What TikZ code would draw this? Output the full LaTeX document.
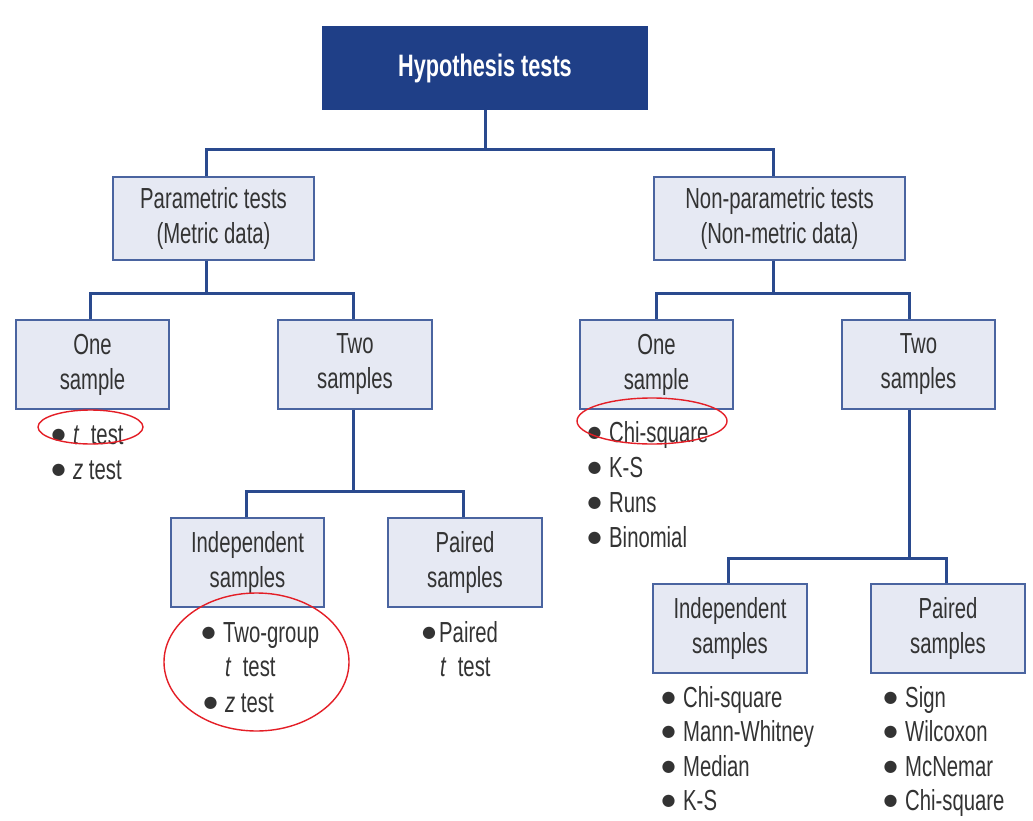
\documentclass[tikz,border=0pt]{standalone}
\usepackage{fontspec}
\setmainfont[FakeStretch=0.7]{Liberation Sans}
\newfontfamily\bltfont{DejaVu Sans}
\definecolor{navy}{HTML}{1F3F87}
\definecolor{conncol}{HTML}{2A4A8E}
\definecolor{boxline}{HTML}{4A64A0}
\definecolor{boxfill}{HTML}{E6E9F3}
\definecolor{txt}{HTML}{333333}
\definecolor{mark}{HTML}{E41E26}
\newcommand\itm[2][21.6pt]{\makebox[#1][l]{\raisebox{5pt}{\bltfont\fontsize{16}{16}\selectfont ●}}#2}
\begin{document}
\begin{tikzpicture}[x=1pt,y=-1pt,
  box/.style={draw=boxline, fill=boxfill, line width=1.5pt, align=center,
    font=\fontsize{29}{35}\selectfont, text=txt, inner sep=0pt},
  topbox/.style={fill=navy, align=center, font=\fontsize{31}{35}\selectfont\bfseries,
    text=white, inner sep=0pt},
  conn/.style={draw=conncol, line width=3pt},
  item/.style={anchor=base west, inner sep=0pt, font=\fontsize{29}{35}\selectfont, text=txt},
  ring/.style={draw=mark, line width=1.4pt}]
\useasboundingbox (0,0) rectangle (1033,821);
\fill[white] (0,0) rectangle (1033,821);

% boxes
\node[topbox, minimum width=326pt, minimum height=84pt] (top) at (485,68) {Hypothesis tests};
\node[box, minimum width=201pt, minimum height=83pt] (param) at (213.5,218.5) {Parametric tests\\(Metric data)};
\node[box, minimum width=251pt, minimum height=83pt] (nonpar) at (779.5,218.5) {Non-parametric tests\\(Non-metric data)};
\node[box, minimum width=153pt, minimum height=89pt] (oneL) at (92.5,364.5) {One\\sample};
\node[box, minimum width=154pt, minimum height=89pt] (twoL) at (355,364.5) {Two\\samples};
\node[box, minimum width=153pt, minimum height=89pt] (indL) at (247.5,562.5) {Independent\\samples};
\node[box, minimum width=154pt, minimum height=89pt] (pairL) at (465,562.5) {Paired\\samples};
\node[box, minimum width=153pt, minimum height=89pt] (oneR) at (656.5,364.5) {One\\sample};
\node[box, minimum width=153pt, minimum height=89pt] (twoR) at (918.5,364.5) {Two\\samples};
\node[box, minimum width=154pt, minimum height=89pt] (indR) at (730,628.5) {Independent\\samples};
\node[box, minimum width=154pt, minimum height=89pt] (pairR) at (948,628.5) {Paired\\samples};

% connectors
\draw[conn] (top.south) -- ++(0,39) coordinate (jA);
\draw[conn] ([xshift=-7.5pt]param.north) |- (jA) -| ([xshift=-6.5pt]nonpar.north);
\draw[conn] ([xshift=-7.5pt]param.south) -- ++(0,33) coordinate (jB);
\draw[conn] ([xshift=-2.5pt]oneL.north) |- (jB) -| ([xshift=-2pt]twoL.north);
\draw[conn] ([xshift=-6.5pt]nonpar.south) -- ++(0,33) coordinate (jC);
\draw[conn] ([xshift=-0.5pt]oneR.north) |- (jC) -| ([xshift=-9.5pt]twoR.north);
\draw[conn] ([xshift=-2pt]twoL.south) -- ++(0,82) coordinate (jD);
\draw[conn] ([xshift=-1.5pt]indL.north) |- (jD) -| ([xshift=-2pt]pairL.north);
\draw[conn] ([xshift=-9.5pt]twoR.south) -- ++(0,149) coordinate (jE);
\draw[conn] ([xshift=-2pt]indR.north) |- (jE) -| ([xshift=-2pt]pairR.north);

% lists
\node[item] (l1) at (51.4,444) {\itm{\textit{t}\ \ test}};
\node[item] (l2) at (51.4,479) {\itm{\textit{z} test}};
\node[item] (l3) at (201.4,642) {\itm{Two-group}};
\node[item] (l4) at (225,676) {\textit{t}\ \ test};
\node[item] (l5) at (203.4,712) {\itm{\textit{z}\ test}};
\node[item] (l6) at (421.9,642) {\itm[17.1pt]{Paired}};
\node[item] (l7) at (440,676) {\textit{t}\ \ test};
\foreach \t [count=\i] in {Chi-square,K-S,Runs,Binomial}
  \node[item] (r\i) at (587.4,442+35*\i-35) {\itm{\t}};
\foreach \t [count=\i] in {Chi-square,Mann-Whitney,Median,K-S}
  \node[item] (ri\i) at (661.4,707+34.5*\i-34.5) {\itm{\t}};
\foreach \t [count=\i] in {Sign,Wilcoxon,McNemar,Chi-square}
  \node[item] (rp\i) at (883.4,707+34.5*\i-34.5) {\itm{\t}};

% red marks
\draw[ring] (90.5,427) ellipse [x radius=52.5, y radius=17];
\draw[ring] (256.5,662) ellipse [x radius=92.5, y radius=69];
\draw[ring] (652,421) ellipse [x radius=75, y radius=23];
\end{tikzpicture}
\end{document}
